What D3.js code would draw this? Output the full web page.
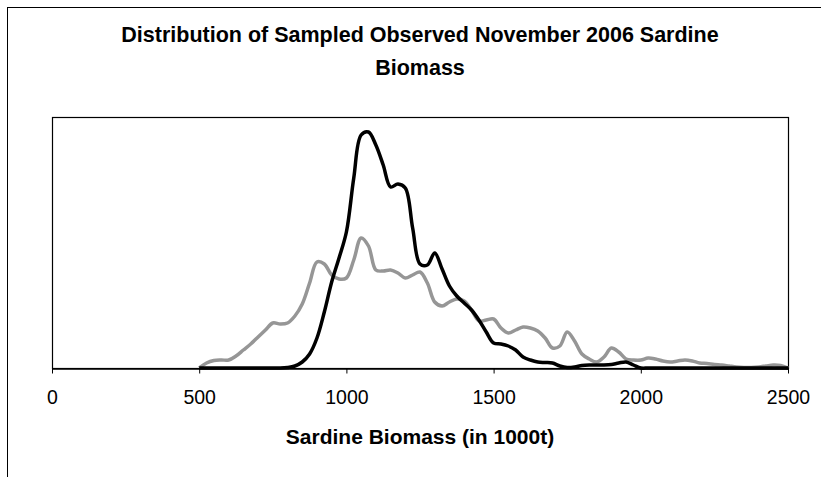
<!DOCTYPE html>
<meta charset="utf-8">
<title>Sardine Biomass Distribution</title>
<script src="https://d3js.org/d3.v7.min.js"></script>
<style>
    body { margin: 0; background: #fff; }
    svg  { display: block; font-family: "Liberation Sans", Arial, sans-serif; }
</style>
<body>
<script>

    // Biomass bins (in 1000t)
    const biomassBins = [
         500,  525,  550,  575,  600,  625,  650,  675,  700,  725,
         750,  775,  800,  825,  850,  875,  900,  925,  950,  975,
        1000, 1025, 1050, 1075, 1100, 1125, 1150, 1175, 1200, 1225,
        1250, 1275, 1300, 1325, 1350, 1375, 1400, 1425, 1450, 1475,
        1500, 1525, 1550, 1575, 1600, 1625, 1650, 1675, 1700, 1725,
        1750, 1775, 1800, 1825, 1850, 1875, 1900, 1925, 1950, 1975,
        2000, 2025, 2050, 2075, 2100, 2125, 2150, 2175, 2200, 2225,
        2250, 2275, 2300, 2325, 2350, 2375, 2400, 2425, 2450, 2475,
        2500
    ];

    // Relative frequency, black curve
    const densityBlack = [
           0,    0,    0,    0,    0,    0,    0,    0,    0,    0,
           0,    0,  0.5,    2,    6,   14,   30,   56,   86,  110,
         136,  190,  233,  236,  223,  203,  181,  184,  180,  140,
         104,  103,  115,   99,   82,   72,   65,   58,   48,   36,
          25,   24,   22,   18,   11,    8,    6,  5.5,    5,    2,
         0.5,    1,  2.5,    3,    3,    3,  3.5,    5,    6,    3,
           0,    0,    0,    0,    0,    0,    0,    0,    0,    0,
           0,    0,    0,    0,    0,    0,    0,    0,    0,    0,
           0
    ];

    // Relative frequency, grey curve
    const densityGrey = [
           0,    5,  7.5,    8,    8,   12,   18,   24,   31,   38,
          45,   44,   45,   52,   64,   85,  106,  104,   93,   89,
          90,  108,  130,  122,   98,   97,   98,   95,   90,   93,
          96,   85,   66,   62,   66,   69,   67,   58,   47,   48,
          49,   40,   35,   38,   41,   40,   37,   30,   20,   22,
          36,   27,   14,    9,    6,   11,   20,   16,    9,    8,
           8,   10,    9,    7,    6,    7,    8,    7,    5,  4.5,
         3.5,    3,    2,    1,  0.5,  0.5,    1,    2,    3,  2.5,
           0
    ];

    const xTicks = [0, 500, 1000, 1500, 2000, 2500];

    // SVG constraints
    const width  = 821;
    const height = 477;
    const plot = { left: 52, right: 788, top: 117, bottom: 368 };

    const svg = d3.select("body")
                  .append("svg")
                  .attr("width", width)
                  .attr("height", height);

    // Chart area border (runs off the right and bottom edges)
    svg.append("rect")
        .attr("x", 7.5)
        .attr("y", 7.5)
        .attr("width", width + 20)
        .attr("height", height + 20)
        .attr("fill", "#fff")
        .attr("stroke", "#000")
        .attr("stroke-width", 1);

    // Title
    const title = svg.append("text")
        .attr("x", 420)
        .attr("text-anchor", "middle")
        .attr("font-weight", "bold")
        .attr("font-size", 21.5);
    title.append("tspan").attr("x", 420).attr("y", 42)
        .text("Distribution of Sampled Observed November 2006 Sardine");
    title.append("tspan").attr("x", 420).attr("y", 75)
        .text("Biomass");

    // Scales
    const xScale = d3.scaleLinear()
                     .domain([0, 2500])
                     .range([plot.left, plot.right]);
    const yScale = d3.scaleLinear()
                     .domain([0, 251])
                     .range([plot.bottom, plot.top]);

    // Plot area box
    svg.append("rect")
        .attr("x", plot.left + 0.5)
        .attr("y", plot.top + 0.5)
        .attr("width", plot.right - plot.left)
        .attr("height", plot.bottom - plot.top)
        .attr("fill", "none")
        .attr("stroke", "#000")
        .attr("stroke-width", 1.2);

    // Lines
    const line = d3.line()
                   .x((d, i) => xScale(biomassBins[i]))
                   .y(d => yScale(d))
                   .curve(d3.curveCatmullRom.alpha(0.5));

    svg.append("path")
        .datum(densityGrey)
        .attr("d", line)
        .attr("fill", "none")
        .attr("stroke", "#969696")
        .attr("stroke-width", 3.5)
        .attr("stroke-linejoin", "round");

    svg.append("path")
        .datum(densityBlack)
        .attr("d", line)
        .attr("fill", "none")
        .attr("stroke", "#000")
        .attr("stroke-width", 3.5)
        .attr("stroke-linejoin", "round");

    // X axis
    const xAxis = d3.axisBottom(xScale)
                    .tickValues(xTicks)
                    .tickSize(5)
                    .tickSizeOuter(0)
                    .tickPadding(17)
                    .tickFormat(d3.format("d"));

    const gx = svg.append("g")
        .attr("transform", "translate(0," + (plot.bottom + 0.5) + ")")
        .call(xAxis);
    gx.select(".domain").attr("stroke", "#000").attr("stroke-width", 1.5);
    gx.selectAll(".tick line").attr("stroke", "#000");
    gx.selectAll(".tick text")
        .attr("fill", "#000")
        .attr("font-size", 19.5)
        .attr("font-family", "Liberation Sans, Arial, sans-serif");

    // X axis title
    svg.append("text")
        .attr("x", 420)
        .attr("y", 444)
        .attr("text-anchor", "middle")
        .attr("font-weight", "bold")
        .attr("font-size", 21)
        .text("Sardine Biomass (in 1000t)");

</script>
</body>
